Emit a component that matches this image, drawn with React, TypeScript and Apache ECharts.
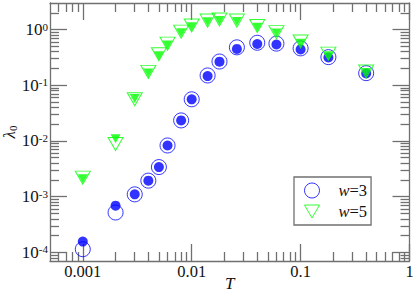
import React, { useEffect, useRef } from "react";
import * as echarts from "echarts";

// ---- data ----
const T = [0.001, 0.002, 0.003, 0.004, 0.005, 0.006, 0.008, 0.01, 0.014, 0.018, 0.026, 0.04, 0.06, 0.1, 0.18, 0.4];
const w3Open = [1.14e-4, 5.2e-4, 1.1e-3, 1.94e-3, 3.4e-3, 8.3e-3, 0.0234, 0.056, 0.15, 0.267, 0.48, 0.58, 0.56, 0.46, 0.32, 0.165];
const w3Filled = [1.56e-4, 6.9e-4, 1.1e-3, 1.94e-3, 3.4e-3, 8.3e-3, 0.0234, 0.056, 0.146, 0.265, 0.45, 0.55, 0.54, 0.44, 0.315, 0.163];
const w5Open = [2.2e-3, 8.8e-3, 0.056, 0.174, 0.36, 0.56, 0.92, 1.18, 1.45, 1.52, 1.45, 1.16, 0.9, 0.61, 0.37, 0.177];
const w5Filled = [2.1e-3, 0.011, 0.058, 0.166, 0.34, 0.53, 0.88, 1.12, 1.38, 1.45, 1.4, 1.1, 0.87, 0.57, 0.34, 0.17];

const xMajor = [0.001, 0.01, 0.1, 1];
const xTickLabels = ["0.001", "0.01", "0.1", "1"];
const yMajor = [1e-4, 1e-3, 1e-2, 1e-1, 1];
const yTickExponents = ["-4", "-3", "-2", "-1", "0"];
const xRange = [0.0005, 1];
const yRange = [7e-5, 3];
const legendNames = ["w=3", "w=5"];

const lg = (v: number) => Math.log10(v);
function minorTicks(lo: number, hi: number) {
  const out: number[] = [];
  for (let d = -6; d <= 1; d++) {
    for (let k = 2; k <= 9; k++) {
      const v = k * Math.pow(10, d);
      if (v > lo * 1.0001 && v < hi * 0.9999) out.push(lg(v));
    }
  }
  return out;
}

const FONT = '"Liberation Serif", "Times New Roman", serif';
const LINE = { color: "#707070", width: 1.3 };
const BLUE = "#0000ff";
const GREEN = "#00ff00";
const TRI = "path://M0,0L10,0L5,8.66Z";

export default function App() {
  const ref = useRef<HTMLDivElement>(null);
  useEffect(() => {
    document.body.style.margin = "0";
    if (!ref.current) return;
    const chart = echarts.init(ref.current, undefined, { renderer: "svg" });
    const xMin = lg(xRange[0]), xMax = lg(xRange[1]);
    const yMin = lg(yRange[0]), yMax = lg(yRange[1]);
    const xMaj = xMajor.map(lg), yMaj = yMajor.map(lg);
    const xMin2 = minorTicks(xRange[0], xRange[1]);
    const yMin2 = minorTicks(yRange[0], yRange[1]);

    const baseAxis = (min: number, max: number) => ({
      type: "value" as const, min, max, splitLine: { show: false },
    });
    const majorAxis = (min: number, max: number, pos: string, vals: number[]) => ({
      ...baseAxis(min, max),
      position: pos,
      axisLine: { show: true, onZero: false, lineStyle: LINE },
      axisTick: { show: true, inside: true, length: 17, customValues: vals, lineStyle: LINE },
      axisLabel: { show: false },
    });
    const minorAxis = (min: number, max: number, pos: string, vals: number[]) => ({
      ...baseAxis(min, max),
      position: pos,
      axisLine: { show: false, onZero: false },
      axisTick: { show: true, inside: true, length: 9, customValues: vals, lineStyle: LINE },
      axisLabel: { show: false },
    });

    const xMainAxis: any = majorAxis(xMin, xMax, "bottom", xMaj);
    xMainAxis.axisLabel = {
      show: true, customValues: xMaj, margin: 2, fontFamily: FONT, fontSize: 16.5, color: "#111",
      formatter: (v: number) => xTickLabels[Math.round(v) + 3] ?? "",
    };
    xMainAxis.name = "T";
    xMainAxis.nameLocation = "middle";
    xMainAxis.nameGap = 14;
    xMainAxis.nameMoveOverlap = false;
    xMainAxis.nameTextStyle = { fontFamily: FONT, fontStyle: "italic", fontSize: 17, color: "#111", verticalAlign: "top", lineHeight: 16 };

    const yMainAxis: any = majorAxis(yMin, yMax, "left", yMaj);
    yMainAxis.axisLabel = {
      show: true, customValues: yMaj, margin: 2, color: "#111",
      formatter: (v: number) => `{b|10}{s|${yTickExponents[Math.round(v) + 4] ?? ""}}`,
      rich: {
        b: { fontFamily: FONT, fontSize: 17, color: "#111" },
        s: { fontFamily: FONT, fontSize: 11, color: "#111", verticalAlign: "top" },
      },
    };
    yMainAxis.name = "{l|λ}{s|0}";
    yMainAxis.nameLocation = "middle";
    yMainAxis.nameGap = 32;
    yMainAxis.nameMoveOverlap = false;
    yMainAxis.nameRotate = 90;
    yMainAxis.nameTextStyle = {
      rich: {
        l: { fontFamily: FONT, fontStyle: "italic", fontSize: 17, color: "#111" },
        s: { fontFamily: FONT, fontSize: 11, color: "#111", verticalAlign: "bottom" },
      },
    };

    const toPts = (ys: number[]) => T.map((t, i) => [lg(t), lg(ys[i])]);

    const option: any = {
      animation: false,
      grid: { left: 50, right: 5.5, top: 3, bottom: 32, containLabel: false, outerBoundsMode: "none" },
      xAxis: [
        xMainAxis,
        minorAxis(xMin, xMax, "bottom", xMin2),
        majorAxis(xMin, xMax, "top", xMaj),
        minorAxis(xMin, xMax, "top", xMin2),
      ],
      yAxis: [
        yMainAxis,
        minorAxis(yMin, yMax, "left", yMin2),
        majorAxis(yMin, yMax, "right", yMaj),
        minorAxis(yMin, yMax, "right", yMin2),
      ],
      legend: {
        orient: "vertical", left: 294, top: 177,
        selectedMode: false,
        itemWidth: 15, itemHeight: 15, itemGap: 4,
        padding: [5, 4, 5, 10],
        borderColor: "#707070", borderWidth: 1.3,
        data: [
          { name: legendNames[0], icon: "circle", itemStyle: { color: "rgba(0,0,0,0)", borderColor: BLUE, borderWidth: 1 } },
          { name: legendNames[1], icon: TRI, itemStyle: { color: "rgba(0,0,0,0)", borderColor: GREEN, borderWidth: 1 } },
        ],
        formatter: (n: string) => `{i|w}{n|${n.slice(1)}}`,
        textStyle: {
          padding: [0, 0, 0, 14], lineHeight: 15,
          rich: {
            i: { fontFamily: FONT, fontStyle: "italic", fontSize: 16.5, color: "#111" },
            n: { fontFamily: FONT, fontSize: 16.5, color: "#111" },
          },
        },
      },
      series: [
        {
          name: legendNames[0], type: "scatter", symbol: "circle", symbolSize: 15,
          itemStyle: { color: "rgba(0,0,0,0)", borderColor: BLUE, borderWidth: 1 },
          data: toPts(w3Open), z: 2,
        },
        {
          name: "w3f", type: "scatter", symbol: "circle", symbolSize: 10,
          itemStyle: { color: BLUE },
          data: toPts(w3Filled), z: 3,
        },
        {
          name: legendNames[1], type: "scatter", symbol: TRI, symbolSize: [15, 13],
          itemStyle: { color: "rgba(0,0,0,0)", borderColor: GREEN, borderWidth: 1 },
          data: toPts(w5Open), z: 4,
        },
        {
          name: "w5f", type: "scatter", symbol: TRI, symbolSize: [10, 9],
          itemStyle: { color: GREEN },
          data: toPts(w5Filled), z: 5,
        },
      ],
    };
    chart.setOption(option);
    return () => chart.dispose();
  }, []);
  return <div ref={ref} style={{ width: 415, height: 293 }} />;
}
